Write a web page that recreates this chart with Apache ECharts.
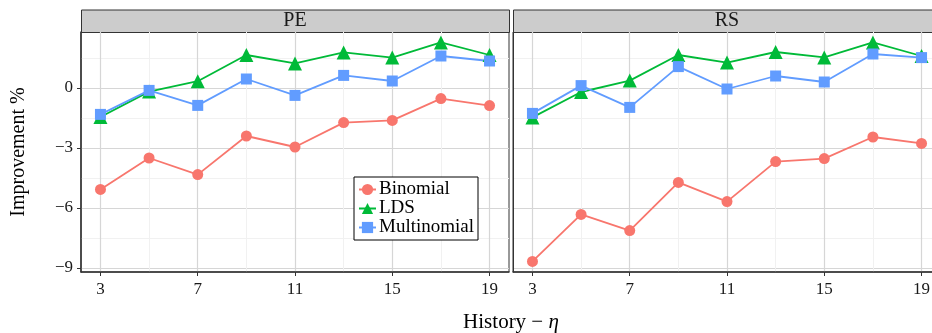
<!DOCTYPE html>
<html>
<head>
<meta charset="utf-8">
<script src="https://cdn.jsdelivr.net/npm/echarts@6/dist/echarts.min.js"></script>
<style>
  html, body { margin: 0; padding: 0; background: #fff; }
  #chart { width: 932px; height: 333px; }
</style>
</head>
<body>
<div id="chart"></div>
<script>
  const panels = ['PE', 'RS']
  const history = [3, 5, 7, 9, 11, 13, 15, 17, 19]
  const xTicks = [3, 7, 11, 15, 19]
  const xMinorTicks = [5, 9, 13, 17]
  const yTicks = [-9, -6, -3, 0]
  const yMinorTicks = [-7.5, -4.5, -1.5, 1.5]

  const peBinomial = [-5.07, -3.5, -4.33, -2.4, -2.95, -1.73, -1.62, -0.53, -0.88]
  const peLDS = [-1.45, -0.18, 0.34, 1.65, 1.23, 1.78, 1.52, 2.28, 1.65]
  const peMultinomial = [-1.32, -0.12, -0.87, 0.45, -0.37, 0.63, 0.35, 1.6, 1.35]

  const rsBinomial = [-8.67, -6.32, -7.13, -4.72, -5.68, -3.68, -3.53, -2.45, -2.77]
  const rsLDS = [-1.47, -0.2, 0.37, 1.65, 1.27, 1.8, 1.53, 2.28, 1.6]
  const rsMultinomial = [-1.27, 0.12, -0.97, 1.07, -0.05, 0.6, 0.3, 1.7, 1.52]

  const font = 'Liberation Serif'
  const colors = { Binomial: '#F8766D', LDS: '#00BA38', Multinomial: '#619CFF' }
  const symbols = { Binomial: ['circle', 11], LDS: ['triangle', 14], Multinomial: ['rect', 11] }

  const gridLeft = [81, 513]
  const gridWidth = 428
  const gridTop = 32
  const gridHeight = 240

  function pairs (vals) {
    return history.map((h, i) => [h, vals[i]])
  }

  function majorX (idx) {
    return {
      type: 'value', gridIndex: idx, min: 2.2, max: 19.8,
      axisLine: { show: true, onZero: false, lineStyle: { color: '#333', width: 1.5 } },
      axisTick: { show: true, length: 4, customValues: xTicks, lineStyle: { color: '#333' } },
      axisLabel: { show: true, customValues: xTicks, margin: 9, color: '#1a1a1a', fontFamily: font, fontSize: 17 },
      splitLine: { show: true, lineStyle: { color: '#d6d6d6', width: 1.2 } }
    }
  }
  function minorX (idx) {
    return {
      type: 'value', gridIndex: idx, min: 2.2, max: 19.8,
      axisLine: { show: false },
      axisTick: { show: false, customValues: xMinorTicks },
      axisLabel: { show: false },
      splitLine: { show: true, lineStyle: { color: '#f1f1f1', width: 1 } }
    }
  }
  function majorY (idx) {
    return {
      type: 'value', gridIndex: idx, min: -9.2, max: 2.8,
      name: idx === 0 ? 'Improvement %' : '',
      nameLocation: 'middle', nameGap: 52,
      nameTextStyle: { fontFamily: font, fontSize: 20, color: '#000' },
      axisLine: { show: true, onZero: false, lineStyle: { color: '#333', width: idx === 0 ? 1.5 : 1 } },
      axisTick: { show: idx === 0, length: 4, customValues: yTicks, lineStyle: { color: '#333' } },
      axisLabel: { show: idx === 0, customValues: yTicks, margin: 8, color: '#1a1a1a', fontFamily: font, fontSize: 17,
        formatter: v => (v < 0 ? '\u2212' + Math.abs(v) : '' + v) },
      splitLine: { show: true, lineStyle: { color: '#d6d6d6', width: 1.2 } }
    }
  }
  function minorY (idx) {
    return {
      type: 'value', gridIndex: idx, min: -9.2, max: 2.8,
      axisLine: { show: false },
      axisTick: { show: false, customValues: yMinorTicks },
      axisLabel: { show: false },
      splitLine: { show: true, lineStyle: { color: '#f1f1f1', width: 1 } }
    }
  }

  function lineSeries (name, vals, idx) {
    return {
      name: name, type: 'line', xAxisIndex: idx, yAxisIndex: idx,
      data: pairs(vals),
      symbol: symbols[name][0], symbolSize: symbols[name][1],
      showSymbol: true, animation: false,
      lineStyle: { color: colors[name], width: 1.8 },
      itemStyle: { color: colors[name] }
    }
  }

  function strip (idx) {
    return [
      {
        type: 'rect', left: gridLeft[idx], top: 9.5,
        shape: { width: gridWidth, height: 22.5 },
        style: { fill: '#cccccc', stroke: '#333', lineWidth: 1 }
      },
      {
        type: 'text', x: gridLeft[idx] + gridWidth / 2, y: 21,
        style: { text: panels[idx], fontFamily: font, fontSize: 20, fill: '#1a1a1a', align: 'center', verticalAlign: 'middle' }
      }
    ]
  }

  const chart = echarts.init(document.getElementById('chart'), null, { renderer: 'canvas' })
  chart.setOption({
    animation: false,
    backgroundColor: '#fff',
    grid: [0, 1].map(i => ({
      left: gridLeft[i], top: gridTop, width: gridWidth, height: gridHeight,
      outerBoundsMode: 'none', containLabel: false,
      show: true, borderColor: '#333', borderWidth: 1, backgroundColor: '#fff'
    })),
    xAxis: [majorX(0), majorX(1), minorX(0), minorX(1)],
    yAxis: [majorY(0), majorY(1), minorY(0), minorY(1)],
    legend: {
      orient: 'vertical', left: 354, top: 177,
      data: ['Binomial', 'LDS', 'Multinomial'],
      backgroundColor: '#fff', borderColor: '#000', borderWidth: 1,
      padding: [3, 4, 3, 4], itemGap: 0, itemWidth: 17, itemHeight: 14,
      textStyle: { fontFamily: font, fontSize: 19, color: '#000', padding: [0, 0, 0, -2] }
    },
    graphic: strip(0).concat(strip(1)).concat([
      {
        type: 'text', x: 511, y: 322,
        style: {
          text: 'History \u2212 {i|\u03b7}',
          fontFamily: font, fontSize: 21, fill: '#000', align: 'center', verticalAlign: 'middle',
          rich: { i: { fontStyle: 'italic', fontFamily: font, fontSize: 21, color: '#000' } }
        }
      }
    ]),
    series: [
      lineSeries('Binomial', peBinomial, 0),
      lineSeries('LDS', peLDS, 0),
      lineSeries('Multinomial', peMultinomial, 0),
      lineSeries('Binomial', rsBinomial, 1),
      lineSeries('LDS', rsLDS, 1),
      lineSeries('Multinomial', rsMultinomial, 1)
    ]
  })
</script>
</body>
</html>
